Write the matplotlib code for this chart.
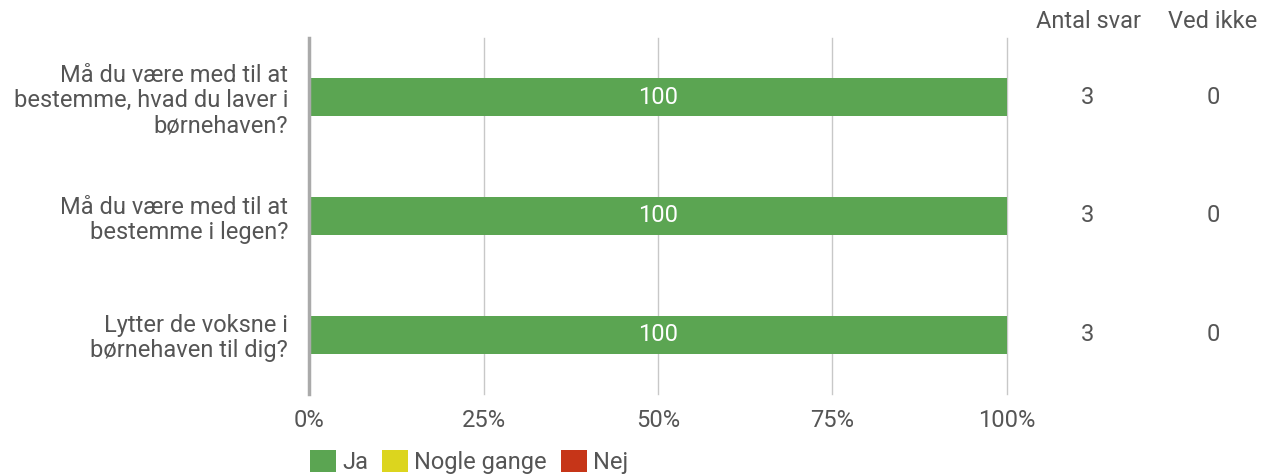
import matplotlib.pyplot as plt
import numpy as np

plt.rcParams['font.family'] = ['Roboto', 'DejaVu Sans']

questions = [
    "Må du være med til at\nbestemme, hvad du laver i\nbørnehaven?",
    "Må du være med til at\nbestemme i legen?",
    "Lytter de voksne i\nbørnehaven til dig?",
]
ja = [100, 100, 100]
nogle_gange = [0, 0, 0]
nej = [0, 0, 0]
antal_svar = [3, 3, 3]
ved_ikke = [0, 0, 0]
series_names = ["Ja", "Nogle gange", "Nej"]
colors = ["#5ba552", "#dcd51e", "#c63518"]
xticks = [0, 25, 50, 75, 100]

txt = "#555555"
fs = 17
W, H = 1271, 475
fig = plt.figure(figsize=(W / 100, H / 100), dpi=100)
ax = fig.add_axes([309 / W, 1 - 394 / H, (1007 - 309) / W, (394 - 38) / H])

y = np.arange(len(questions))
left = np.zeros(len(questions))
for vals, name, c in zip([ja, nogle_gange, nej], series_names, colors):
    vals = np.array(vals, dtype=float)
    ax.barh(y, vals, left=left, height=0.32, color=c, label=name, zorder=3)
    for yi, l, v in zip(y, left, vals):
        if v > 0:
            ax.text(l + v / 2, yi, f"{v:.0f}", ha='center', va='center',
                    color='white', fontsize=fs, zorder=4)
    left += vals

ax.set_xlim(0, 100)
ax.set_ylim(len(questions) - 0.5, -0.5)
ax.set_yticks(y)
ax.set_yticklabels(questions, fontsize=fs, color=txt, linespacing=1.12)
ax.set_xticks(xticks)
ax.set_xticklabels([f"{t}%" for t in xticks], fontsize=fs, color=txt)
ax.tick_params(axis='y', length=0, pad=15)
ax.tick_params(axis='x', length=0, pad=11)
ax.grid(axis='x', color='#c8c8c8', linewidth=1, zorder=0)
for gl in ax.get_xgridlines():
    gl.set_clip_on(False)
for s in ['top', 'right', 'bottom']:
    ax.spines[s].set_visible(False)
ax.spines['left'].set_color('#aaaaaa')
ax.spines['left'].set_linewidth(2.5)
ax.spines['left'].set_zorder(5)

# extra columns on the right
fig.text(1088 / W, 1 - 22 / H, "Antal svar", ha='center', va='center', fontsize=fs, color=txt)
fig.text(1213 / W, 1 - 22 / H, "Ved ikke", ha='center', va='center', fontsize=fs, color=txt)
for yi, a, v in zip(y, antal_svar, ved_ikke):
    ax.annotate(str(a), xy=(1088 / W, yi), xycoords=('figure fraction', 'data'),
                ha='center', va='center', fontsize=fs, color=txt, annotation_clip=False)
    ax.annotate(str(v), xy=(1213 / W, yi), xycoords=('figure fraction', 'data'),
                ha='center', va='center', fontsize=fs, color=txt, annotation_clip=False)

leg = fig.legend(loc='center left', bbox_to_anchor=(301 / W, 1 - 462 / H), ncol=3,
                 frameon=False, fontsize=fs, handlelength=1.1, handleheight=1.1,
                 handletextpad=0.25, columnspacing=0.6, borderaxespad=0)
for t in leg.get_texts():
    t.set_color(txt)

fig.savefig('out.png', dpi=100)
